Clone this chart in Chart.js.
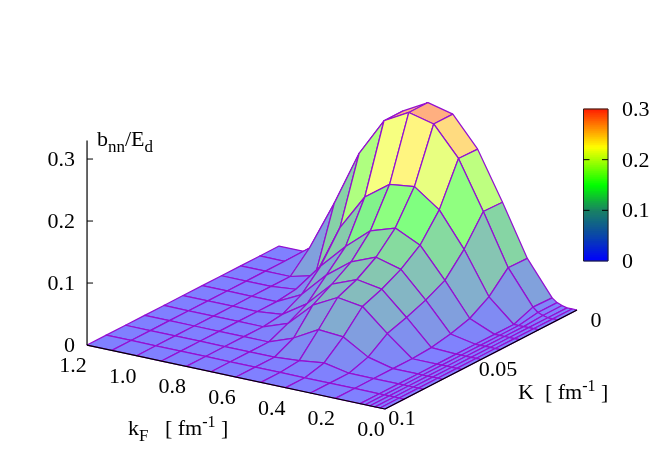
<!DOCTYPE html>
<html>
<head>
<meta charset="utf-8">
<script src="https://cdn.jsdelivr.net/npm/chart.js@4"></script>
<style>html,body{margin:0;padding:0;background:#fff}canvas{display:block}</style>
</head>
<body>
<canvas id="c" width="664" height="465"></canvas>
<script>
const kF = [0,0.02,0.04,0.06,0.08,0.1,0.2,0.3,0.4,0.5,0.6,0.7,0.8,0.9,1.0,1.1,1.2];
const K = [0,0.01,0.02,0.03,0.04,0.05,0.06,0.07,0.08,0.09,0.1];
const zK000 = [0,0,0,0.002,0.005,0.011,0.066,0.148,0.225,0.273,0.283,0.261,0.199,0.108,0.03,0,0];
const zK001 = [0,0,0,0.002,0.005,0.012,0.067,0.149,0.226,0.273,0.283,0.261,0.2,0.111,0.03,0,0];
const zK002 = [0,0,0,0,0,0,0.036,0.104,0.159,0.188,0.183,0.154,0.096,0.01,0,0,0];
const zK003 = [0,0,0,0,0,0,0.017,0.07,0.118,0.137,0.124,0.09,0.05,0.004,0,0,0];
const zK004 = [0,0,0,0,0,0,0.008,0.054,0.095,0.106,0.09,0.06,0.02,0,0,0,0];
const zK005 = [0,0,0,0,0,0,0.002,0.042,0.079,0.086,0.07,0.03,0.004,0,0,0,0];
const zK006 = [0,0,0,0,0,0,0,0.032,0.067,0.073,0.052,0.014,0,0,0,0,0];
const zK007 = [0,0,0,0,0,0,0,0.01,0.034,0.037,0.015,0,0,0,0,0,0];
const zK008 = [0,0,0,0,0,0,0,0,0.008,0.003,0,0,0,0,0,0,0];
const zK009 = [0,0,0,0,0,0,0,0,0,0,0,0,0,0,0,0,0];
const zK010 = [0,0,0,0,0,0,0,0,0,0,0,0,0,0,0,0,0];
const zRows = [zK000,zK001,zK002,zK003,zK004,zK005,zK006,zK007,zK008,zK009,zK010];
const zTicks = [0,0.1,0.2,0.3];
const zTickLabels = ['0','0.1','0.2','0.3'];
const kFTicks = [1.2,1.0,0.8,0.6,0.4,0.2,0.0];
const kFTickLabels = ['1.2','1.0','0.8','0.6','0.4','0.2','0.0'];
const KTicks = [0.1,0.05,0];
const KTickLabels = ['0.1','0.05','0'];
const paletteValues = [0,0.05,0.1,0.125,0.15,0.2,0.225,0.3];
const surfaceColors = [[0,0,255],[5,85,165],[15,155,85],[10,205,45],[0,255,0],[170,255,0],[255,255,0],[255,30,0]];
const colorBoxColors = [[0,0,255],[10,70,170],[25,130,100],[15,190,50],[0,255,0],[170,255,0],[255,255,0],[255,30,0]];

// gnuplot-style orthographic view: three axis vectors on the page
const view = {ox:577, oy:310, kFx:-248.3, kFy:-53.3, Kx:-1920, Ky:990, z:-620};
function project(f,k,z){
  return {x:view.ox+view.kFx*f+view.Kx*k, y:view.oy+view.kFy*f+view.Ky*k+view.z*(z||0)};
}
function palette(v,colors){
  v=Math.max(0,Math.min(0.3,v));
  let i=0; while(i<paletteValues.length-2 && v>paletteValues[i+1]) i++;
  const t=(v-paletteValues[i])/(paletteValues[i+1]-paletteValues[i]);
  return colors[i].map((c,j)=>c+(colors[i+1][j]-c)*t);
}
const css=c=>`rgb(${c.map(Math.round).join(',')})`;
const pastel=c=>c.map(x=>(x+255)/2);

const datasets=[];
let paint=0;
function poly(points,fillColor,lineColor,width){
  datasets.push({data:points,showLine:true,fill:fillColor?'shape':false,backgroundColor:fillColor||'transparent',
    borderColor:lineColor||'transparent',borderWidth:width,pointRadius:0,tension:0,clip:false,order:-(paint++),
    borderJoinStyle:'round'});
}
// surface, far to near
for(let j=0;j<K.length-1;j++){
  for(let i=kF.length-2;i>=0;i--){
    const a=zRows[j][i],b=zRows[j][i+1],c=zRows[j+1][i+1],d=zRows[j+1][i];
    const col=css(pastel(palette((a+b+c+d)/4,surfaceColors)));
    const p=[project(kF[i],K[j],a),project(kF[i+1],K[j],b),project(kF[i+1],K[j+1],c),project(kF[i],K[j+1],d)];
    p.push(p[0]);
    poly(p,col,'#9410d2',1.25);
  }
}
// base frame
const kFMax=kF[kF.length-1],KMax=K[K.length-1];
poly([project(kFMax,KMax),project(0,KMax),project(0,0)],null,'#000',1.2);
// z axis
const zTop=project(kFMax,KMax,0.33);
poly([project(kFMax,KMax,0),zTop],null,'#000',1.2);
zTicks.slice(1).forEach(t=>{
  const p=project(kFMax,KMax,t);
  poly([p,{x:p.x+6,y:p.y}],null,'#000',1);
});
// colour box
const box={x0:583.5,x1:608,y0:261,y1:109};
const cbY=v=>box.y0+(box.y1-box.y0)*v/0.3;
const cbSteps=[];for(let n=0;n<76;n++)cbSteps.push(n);
cbSteps.forEach(n=>{
  const a=0.3*n/76,b=0.3*(n+1)/76,col=css(palette((a+b)/2,colorBoxColors));
  poly([{x:box.x0,y:cbY(a)},{x:box.x1,y:cbY(a)},{x:box.x1,y:cbY(b)},{x:box.x0,y:cbY(b)},{x:box.x0,y:cbY(a)}],col,col,0.6);
});
poly([{x:box.x0,y:box.y0},{x:box.x1,y:box.y0},{x:box.x1,y:box.y1},{x:box.x0,y:box.y1},{x:box.x0,y:box.y0}],null,'#222',1);
[0.1,0.2].forEach(v=>{
  poly([{x:box.x0,y:cbY(v)},{x:box.x0+6,y:cbY(v)}],null,'#000',1);
  poly([{x:box.x1-6,y:cbY(v)},{x:box.x1,y:cbY(v)}],null,'#000',1);
});

const FONT='"Liberation Serif","Times New Roman",serif';
function rich(ctx,x,y,parts){
  ctx.textAlign='left';ctx.textBaseline='alphabetic';
  parts.forEach(([t,size,dy])=>{
    ctx.font=`${size}px ${FONT}`;
    ctx.fillText(t,x,y+(dy||0));
    x+=ctx.measureText(t).width;
  });
}
const textPlugin={id:'labels',afterDatasetsDraw(chart){
  const ctx=chart.ctx;ctx.save();ctx.fillStyle='#000';
  ctx.font=`22px ${FONT}`;ctx.textBaseline='alphabetic';
  // z ticks
  ctx.textAlign='right';
  zTicks.forEach((t,i)=>{const p=project(kFMax,KMax,t);ctx.fillText(zTickLabels[i],75,p.y+7);});
  // kF ticks
  kFTicks.forEach((t,i)=>{const p=project(t,KMax,0);ctx.textAlign='center';ctx.fillText(kFTickLabels[i],p.x-14,p.y+27);});
  // K ticks
  KTicks.forEach((t,i)=>{const p=project(0,t,0);ctx.textAlign='center';
    ctx.fillText(KTickLabels[i],p.x+(t===0?19:17),p.y+(t===0?17:16));});
  // colour box ticks
  ctx.textAlign='left';
  zTicks.forEach((t,i)=>ctx.fillText(zTickLabels[i],622,cbY(t)+7));
  // titles
  rich(ctx,97,146,[['b',22],['nn',17,6],['/E',22],['d',17,6]]);
  rich(ctx,518,399,[['K  [ fm',22],['-1',16,-8],[' ]',22]]);
  rich(ctx,128,435,[['k',22],['F',17,6],['   [ fm',22],['-1',16,-8],[' ]',22]]);
  ctx.restore();
}};

new Chart(document.getElementById('c'),{
  type:'scatter',
  data:{datasets},
  options:{
    responsive:false,animation:false,events:[],
    layout:{padding:0},
    plugins:{legend:{display:false},tooltip:{enabled:false},title:{display:false}},
    scales:{
      x:{type:'linear',min:0,max:664,display:false},
      y:{type:'linear',min:0,max:465,reverse:true,display:false}
    }
  },
  plugins:[textPlugin]
});
</script>
</body>
</html>
